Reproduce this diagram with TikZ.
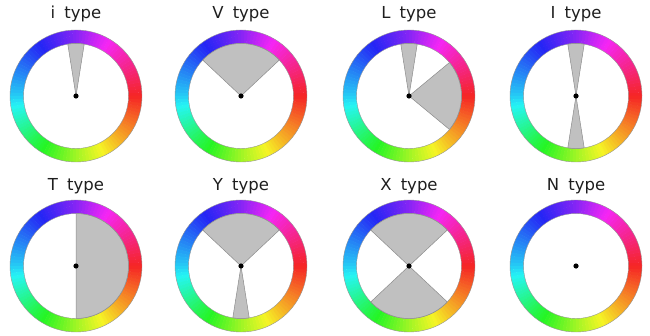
\documentclass[tikz,border=0pt]{standalone}
\usepackage{fontspec}
\setmainfont{DejaVu Sans}
\tikzset{
  sector/.style={fill={rgb,255:red,192;green,192;blue,192}, draw={rgb,255:red,140;green,140;blue,140}, line width=0.5pt, line join=round},
  ringedge/.style={draw={rgb,255:red,150;green,150;blue,150}, line width=0.4pt},
  title/.style={anchor=base, inner sep=0pt, font=\fontsize{16.5}{18}\selectfont, text={rgb,255:red,30;green,30;blue,30}},
  centerdot/.style={fill=black, draw=none}
}
\def\rin{52.5}
\def\rout{66}
\newcommand{\ringwheel}[2]{%
  \begin{scope}[shift={(#1,#2)}]
    \foreach \sa/\ha/\hb in {0/360/315, 45/315/268, 90/268/232, 135/232/192, 180/192/135, 225/135/85, 270/85/40, 315/40/0}{
      \foreach \k in {0,...,14}{
        \pgfmathsetmacro\aa{\sa+3*\k}
        \pgfmathsetmacro\hh{mod(\ha+(\hb-\ha)*(3*\k+1.5)/45+720,360)}
        \definecolor{wc}{Hsb}{\hh,0.85,0.96}
        \fill[wc] (\aa:\rin) -- (\aa:\rout) arc[start angle=\aa,end angle=\aa+3.4,radius=\rout] -- (\aa+3.4:\rin) arc[start angle=\aa+3.4,end angle=\aa,radius=\rin] -- cycle;
      }
    }
    \draw[ringedge] (0,0) circle[radius=\rout];
    \draw[ringedge] (0,0) circle[radius=\rin];
  \end{scope}}
\newcommand{\wsector}[4]{% cx, cy, start, end
  \filldraw[sector, shift={(#1,#2)}] (0,0) -- (#3:\rin) arc[start angle=#3,end angle=#4,radius=\rin] -- cycle;}
\newcommand{\wdot}[2]{\fill[centerdot] (#1,#2) circle[radius=2.6];}
\begin{document}
\begin{tikzpicture}[x=1pt,y=1pt]
\useasboundingbox (0,0) rectangle (650,335);
% row 1 (centre y = 335-96 = 239)
\ringwheel{76}{239}
\ringwheel{241}{239}
\ringwheel{409}{239}
\ringwheel{576}{239}
% row 2 (centre y = 335-266 = 69)
\ringwheel{76}{69}
\ringwheel{241}{69}
\ringwheel{409}{69}
\ringwheel{576}{69}
% i type
\wsector{76}{239}{81}{99}
% V type
\wsector{241}{239}{43.2}{136.8}
% L type
\wsector{409}{239}{81}{99}
\wsector{409}{239}{-39.6}{39.6}
% I type
\wsector{576}{239}{81}{99}
\wsector{576}{239}{261}{279}
% T type
\wsector{76}{69}{-90}{90}
% Y type
\wsector{241}{69}{43.2}{136.8}
\wsector{241}{69}{261}{279}
% X type
\wsector{409}{69}{43.2}{136.8}
\wsector{409}{69}{223.2}{316.8}
% dots
\wdot{76}{239}\wdot{241}{239}\wdot{409}{239}\wdot{576}{239}
\wdot{76}{69}\wdot{241}{69}\wdot{409}{69}\wdot{576}{69}
% titles
\node[title] (ti) at (76,316.5) {i\hspace{0.55em}type};
\node[title] (tv) at (241,316.5) {V\hspace{0.55em}type};
\node[title] (tl) at (409,316.5) {L\hspace{0.55em}type};
\node[title] (tI) at (576,316.5) {I\hspace{0.55em}type};
\node[title] (tt) at (76,145) {T\hspace{0.55em}type};
\node[title] (ty) at (241,145) {Y\hspace{0.55em}type};
\node[title] (tx) at (409,145) {X\hspace{0.55em}type};
\node[title] (tn) at (576,145) {N\hspace{0.55em}type};
\end{tikzpicture}
\end{document}
